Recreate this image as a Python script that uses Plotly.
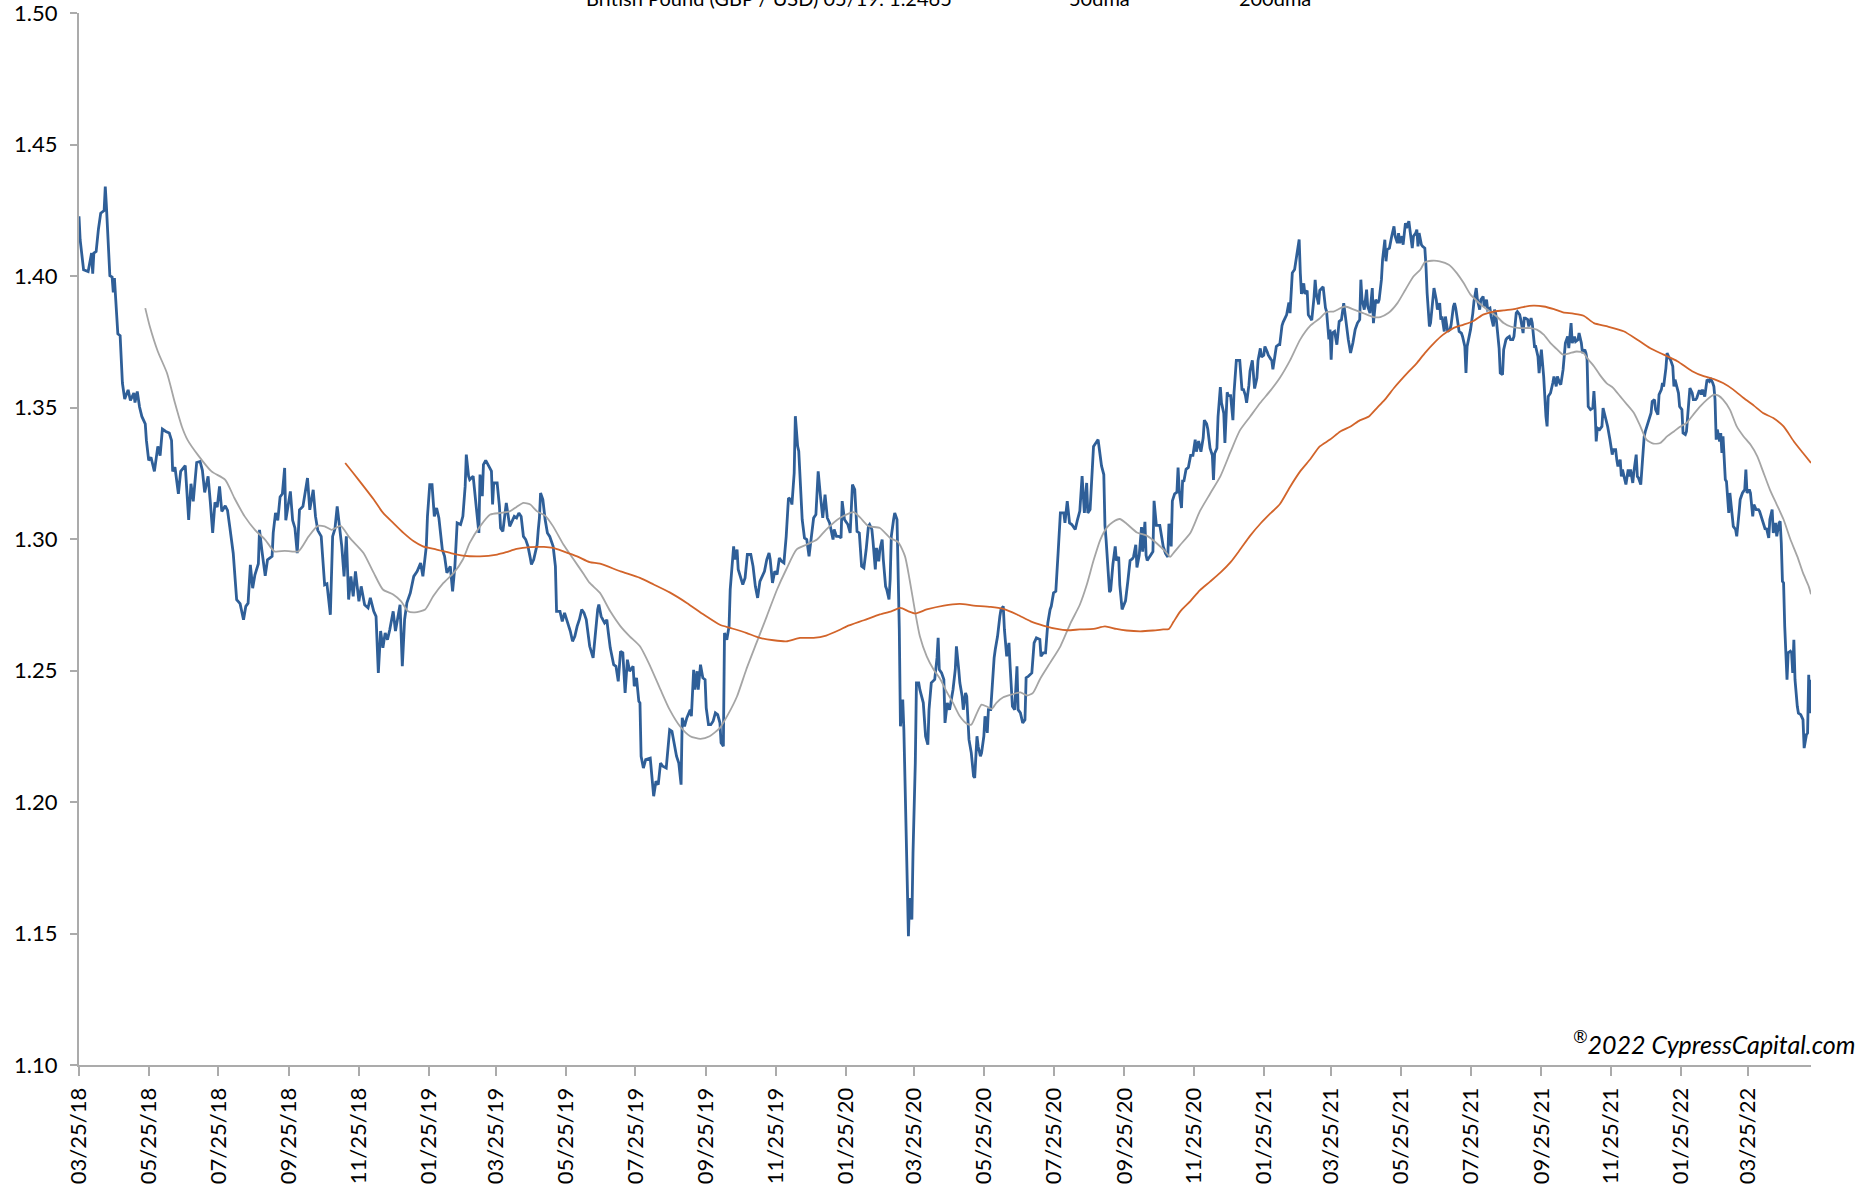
import pandas as pd
import plotly.graph_objects as go

START = "2018-03-25"

# GBP/USD daily close, x = days since START
gbp_days = [
    0, 1, 4, 8, 11, 12, 13, 15, 17, 19, 22, 23, 24, 27, 29, 30, 31, 32, 34, 36,
    38, 40, 43, 45, 48, 49, 51, 53, 55, 58, 59, 61, 63, 66, 69, 71, 73, 76, 79, 81,
    82, 84, 87, 89, 93, 96, 98, 100, 103, 106, 108, 110, 113, 115, 117, 119, 121, 123, 125, 128,
    130, 132, 135, 138, 141, 144, 146, 148, 150, 152, 154, 157, 158, 160, 163, 165, 169, 170, 172, 174,
    176, 178, 180, 181, 185, 187, 189, 191, 193, 196, 200, 202, 205, 207, 209, 212, 215, 217, 220, 222,
    224, 226,
    230, 232, 234, 236, 238, 240, 242, 245, 247, 250, 253, 255, 258, 260, 262, 264, 266, 268, 270, 272,
    275, 277, 279, 281, 283, 285, 287, 290, 293, 296, 299, 301, 304, 305, 307, 309, 311, 313, 315, 318,
    320, 322, 325, 327, 329, 331, 334, 336, 338, 339, 341, 342, 345, 347, 348, 350, 351, 353, 354, 356,
    358, 361, 362, 363, 366, 368, 369, 371, 374, 377, 379, 381, 383, 385, 387, 389, 391, 393, 395, 396,
    398, 401, 402, 403, 404, 406, 408, 410, 412, 415, 417, 418, 421, 423, 425, 427, 430, 432, 434, 436,
    438, 440, 442, 444, 447,
    450, 452, 454, 455, 457, 460, 462, 463, 465, 468, 470, 472, 474, 476, 478, 480, 482, 485, 486, 488,
    490, 491, 492, 494, 496, 500, 502, 503, 505, 507, 509, 511, 514, 515, 517, 519, 521, 523, 525, 527,
    528, 530, 532, 535, 536, 538, 539, 541, 542, 544, 546, 548, 549, 551, 553, 555, 557, 559, 561, 562,
    564, 565, 567, 569, 570, 572, 573, 574, 576, 577, 579, 581, 583, 585, 588, 590, 592, 594, 596, 598,
    600, 602, 604, 605, 607, 609, 611, 613, 615, 617, 619, 621, 623, 624, 626, 627, 629, 630, 632, 633,
    635, 637, 639, 641, 643, 645, 647, 649, 651, 653, 655, 657, 660, 661, 663, 665,
    667, 668, 670, 673, 675, 677, 679, 681, 683, 685, 687, 689, 691, 692, 694, 695, 697, 698, 700, 701,
    703, 704, 706, 707, 709, 710, 711, 713, 714, 716, 717, 718, 719, 721, 722, 724, 725, 726, 727, 729,
    730, 732, 733, 735, 736, 738, 739, 741, 743, 744, 746, 749, 751, 752, 753, 755, 757, 758, 760, 762,
    764, 765, 767, 768, 770, 771, 773, 774, 776, 777, 779, 781, 783, 784, 786, 787, 789, 790, 792, 793,
    795, 796, 798, 800, 801, 802, 804, 806, 807, 809, 810, 812, 814, 815, 817, 819, 821, 822, 824, 826,
    828, 829, 831, 834, 836, 838, 841, 842, 844, 846, 848, 850, 851, 853, 855, 857, 859, 862, 863, 865,
    867, 869, 872, 874, 876, 878, 880, 882, 883, 885,
    886, 888, 890, 892, 893, 895, 897, 898, 899, 900, 902, 903, 905, 907, 908, 910, 911, 913, 914, 916,
    918, 920, 922, 923, 925, 926, 928, 930, 931, 933, 934, 935, 937, 940, 941, 943, 946, 947, 949, 951,
    953, 954, 956, 957, 959, 961, 962, 963, 965, 966, 967, 969, 971, 973, 975, 977, 978, 980, 982, 984,
    985, 987, 988, 990, 992, 993, 994, 996, 997, 999, 1000, 1002, 1003, 1005, 1006, 1008, 1010, 1011, 1013, 1014,
    1016, 1018, 1019, 1021, 1022, 1024, 1025, 1027, 1028, 1029, 1031, 1032, 1034, 1035, 1037, 1038, 1040, 1041, 1043, 1044,
    1045, 1047, 1048, 1050, 1051, 1053, 1054, 1057, 1059, 1060, 1062, 1064, 1066, 1068, 1069, 1070, 1072, 1073, 1075, 1076,
    1078, 1079, 1081, 1082, 1083, 1085, 1086, 1089, 1091, 1092, 1094,
    1095, 1096, 1097, 1099, 1101, 1103, 1105, 1107, 1109, 1111, 1113, 1115, 1117, 1119, 1121, 1122, 1123, 1125, 1127, 1128,
    1130, 1132, 1133, 1135, 1137, 1138, 1140, 1141, 1143, 1144, 1145, 1147, 1149, 1151, 1152, 1154, 1155, 1156, 1158, 1159,
    1161, 1162, 1164, 1165, 1167, 1168, 1170, 1171, 1172, 1173, 1175, 1176, 1178, 1179, 1180, 1182, 1183, 1185, 1186, 1188,
    1189, 1191, 1192, 1193, 1195, 1196, 1198, 1200, 1201, 1203, 1204, 1205, 1207, 1208, 1210, 1211, 1213, 1214, 1215, 1217,
    1218, 1220, 1221, 1223, 1224, 1226, 1227, 1229, 1230, 1232, 1233, 1235, 1236, 1238, 1239, 1240, 1242, 1243, 1244, 1246,
    1247, 1249, 1250, 1252, 1253, 1255, 1256, 1258, 1259, 1261, 1262, 1264, 1265, 1266, 1268, 1269, 1271, 1272, 1274, 1275,
    1277, 1278, 1280, 1281, 1282, 1284, 1285, 1286, 1288, 1290, 1291, 1293, 1294, 1296, 1297, 1299, 1300, 1301, 1303, 1304,
    1306, 1307, 1309, 1310, 1312, 1313, 1315, 1316, 1318, 1319, 1320, 1321, 1323,
    1325, 1326, 1327, 1328, 1329, 1331, 1333, 1334, 1336, 1338, 1340, 1342, 1343, 1345, 1346, 1347, 1349, 1350, 1351, 1353,
    1354, 1356, 1357, 1358, 1360, 1361, 1363, 1364, 1365, 1367, 1369, 1370, 1371, 1373, 1374, 1376, 1377, 1379, 1380, 1382,
    1383, 1385, 1386, 1387, 1389, 1390, 1392, 1393, 1395, 1396, 1397, 1399, 1400, 1401, 1403, 1404, 1406, 1407, 1409, 1410,
    1412, 1413, 1415, 1416, 1418, 1419, 1420, 1421, 1423, 1424, 1425, 1427, 1428, 1430, 1431, 1432, 1433, 1434, 1436, 1437,
    1438, 1439, 1441, 1442, 1444, 1445, 1447, 1448, 1450, 1451, 1453, 1454, 1456, 1458, 1459, 1460, 1462, 1463, 1465, 1466,
    1468, 1470, 1471, 1473, 1474, 1476, 1477, 1479, 1480, 1482, 1483, 1485, 1486, 1488, 1489, 1490, 1491, 1492, 1493, 1495,
    1496, 1498, 1499, 1500, 1501, 1502, 1504, 1505, 1507, 1509, 1510, 1512, 1513, 1514, 1515, 1516,
]
gbp_close = [
    1.4227, 1.4138, 1.4024, 1.4017, 1.4087, 1.4009, 1.4087, 1.4093, 1.4178, 1.4239, 1.4249, 1.4340, 1.4265, 1.4001, 1.3996, 1.3938, 1.3992, 1.3922, 1.3780, 1.3773,
    1.3593, 1.3532, 1.3567, 1.3527, 1.3555, 1.3519, 1.3561, 1.3502, 1.3466, 1.3438, 1.3375, 1.3299, 1.3311, 1.3257, 1.3352, 1.3317, 1.3418, 1.3409, 1.3403, 1.3375,
    1.3257, 1.3273, 1.3172, 1.3257, 1.3279, 1.3073, 1.3210, 1.3143, 1.3291, 1.3295, 1.3261, 1.3177, 1.3238, 1.3137, 1.3023, 1.3139, 1.3121, 1.3200, 1.3105, 1.3126,
    1.3109, 1.3045, 1.2946, 1.2769, 1.2754, 1.2693, 1.2744, 1.2756, 1.2902, 1.2813, 1.2864, 1.2906, 1.3035, 1.2959, 1.2860, 1.2921, 1.2934, 1.3023, 1.3099, 1.3071,
    1.3160, 1.3172, 1.3270, 1.3071, 1.3181, 1.3071, 1.3042, 1.2946, 1.3111, 1.3124, 1.3232, 1.3111, 1.3187, 1.3086, 1.3033, 1.3010, 1.2826, 1.2830, 1.2712, 1.3010,
    1.3038, 1.3124,
    1.2972, 1.2858, 1.3010, 1.2770, 1.2858, 1.2782, 1.2877, 1.2763, 1.2820, 1.2750, 1.2738, 1.2776, 1.2725, 1.2706, 1.2491, 1.2650, 1.2586, 1.2643, 1.2617, 1.2655,
    1.2725, 1.2650, 1.2700, 1.2750, 1.2516, 1.2694, 1.2757, 1.2795, 1.2858, 1.2877, 1.2909, 1.2858, 1.2972, 1.3086, 1.3207, 1.3207, 1.3086, 1.3118, 1.3080, 1.2960,
    1.2934, 1.2871, 1.2896, 1.2801, 1.2896, 1.3061, 1.3055, 1.3086, 1.3200, 1.3321, 1.3239, 1.3226, 1.3239, 1.3156, 1.3112, 1.3023, 1.3245, 1.3163, 1.3283, 1.3299,
    1.3283, 1.3258, 1.3131, 1.3213, 1.3213, 1.3124, 1.3042, 1.3029, 1.3137, 1.3048, 1.3067, 1.3086, 1.3080, 1.3099, 1.3086, 1.3010, 1.2998, 1.2972, 1.2928, 1.2903,
    1.2922, 1.2979, 1.3036, 1.3080, 1.3175, 1.3150, 1.3074, 1.3023, 1.3010, 1.2972, 1.2896, 1.2725, 1.2725, 1.2687, 1.2719, 1.2694, 1.2650, 1.2611, 1.2630, 1.2668,
    1.2694, 1.2732, 1.2719, 1.2694, 1.2592,
    1.2548, 1.2655, 1.2732, 1.2751, 1.2706, 1.2681, 1.2693, 1.2655, 1.2586, 1.2522, 1.2516, 1.2459, 1.2573, 1.2567, 1.2415, 1.2541, 1.2497, 1.2516, 1.2440, 1.2472,
    1.2383, 1.2377, 1.2174, 1.2129, 1.2161, 1.2167, 1.2053, 1.2022, 1.2079, 1.2066, 1.2148, 1.2136, 1.2129, 1.2174, 1.2275, 1.2269, 1.2225, 1.2174, 1.2148, 1.2066,
    1.2320, 1.2288, 1.2320, 1.2351, 1.2326, 1.2503, 1.2427, 1.2497, 1.2427, 1.2522, 1.2472, 1.2465, 1.2358, 1.2294, 1.2294, 1.2307, 1.2339, 1.2332, 1.2301, 1.2225,
    1.2212, 1.2643, 1.2617, 1.2668, 1.2808, 1.2909, 1.2972, 1.2922, 1.2960, 1.2884, 1.2858, 1.2827, 1.2852, 1.2941, 1.2941, 1.2896, 1.2820, 1.2776, 1.2839, 1.2858,
    1.2877, 1.2922, 1.2947, 1.2922, 1.2833, 1.2877, 1.2865, 1.2928, 1.2915, 1.2909, 1.3010, 1.3156, 1.3150, 1.3131, 1.3251, 1.3467, 1.3353, 1.3334, 1.3124, 1.3074,
    1.3004, 1.2998, 1.2934, 1.2998, 1.3080, 1.3093, 1.3257, 1.3162, 1.3080, 1.3169, 1.3080, 1.3061, 1.2998, 1.3036, 1.3010, 1.3010,
    1.3004, 1.3144, 1.3074, 1.3055, 1.3023, 1.3207, 1.3188, 1.3029, 1.3023, 1.2896, 1.2890, 1.2960, 1.3049, 1.3055, 1.3036, 1.2991, 1.2884, 1.2966, 1.2915, 1.2960,
    1.2998, 1.2922, 1.2820, 1.2808, 1.2770, 1.2846, 1.3010, 1.3074, 1.3099, 1.3074, 1.2884, 1.2656, 1.2288, 1.2390, 1.2275, 1.1870, 1.1616, 1.1490, 1.1635, 1.1553,
    1.1806, 1.2149, 1.2453, 1.2453, 1.2427, 1.2390, 1.2377, 1.2250, 1.2218, 1.2351, 1.2453, 1.2466, 1.2548, 1.2624, 1.2504, 1.2491, 1.2466, 1.2301, 1.2377, 1.2351,
    1.2402, 1.2427, 1.2504, 1.2592, 1.2504, 1.2453, 1.2402, 1.2351, 1.2415, 1.2402, 1.2237, 1.2187, 1.2098, 1.2092, 1.2250, 1.2212, 1.2174, 1.2187, 1.2250, 1.2326,
    1.2263, 1.2351, 1.2351, 1.2504, 1.2548, 1.2580, 1.2630, 1.2706, 1.2732, 1.2744, 1.2656, 1.2554, 1.2605, 1.2516, 1.2364, 1.2351, 1.2516, 1.2351, 1.2339, 1.2301,
    1.2313, 1.2472, 1.2478, 1.2491, 1.2605, 1.2624, 1.2618, 1.2554, 1.2567, 1.2567, 1.2681, 1.2732, 1.2744, 1.2795, 1.2801, 1.2947, 1.3099, 1.3099, 1.3061, 1.3144,
    1.3061, 1.3055, 1.3036, 1.3074, 1.3106, 1.3239, 1.3099, 1.3213, 1.3099, 1.3112,
    1.3212, 1.3352, 1.3365, 1.3378, 1.3345, 1.3278, 1.3245, 1.3052, 1.2998, 1.2918, 1.2798, 1.2805, 1.2905, 1.2972, 1.2918, 1.2932, 1.2825, 1.2732, 1.2745, 1.2765,
    1.2838, 1.2918, 1.2925, 1.2932, 1.2978, 1.2892, 1.2938, 1.3045, 1.2952, 1.3065, 1.2938, 1.2918, 1.2932, 1.2952, 1.3145, 1.3052, 1.3052, 1.3025, 1.2972, 1.2945,
    1.2932, 1.3058, 1.2972, 1.3145, 1.3172, 1.3178, 1.3272, 1.3185, 1.3118, 1.3225, 1.3218, 1.3265, 1.3272, 1.3318, 1.3318, 1.3378, 1.3332, 1.3372, 1.3332, 1.3385,
    1.3452, 1.3438, 1.3418, 1.3345, 1.3318, 1.3225, 1.3325, 1.3345, 1.3465, 1.3578, 1.3518, 1.3478, 1.3365, 1.3558, 1.3545, 1.3545, 1.3452, 1.3558, 1.3679, 1.3679,
    1.3679, 1.3565, 1.3572, 1.3545, 1.3518, 1.3585, 1.3639, 1.3679, 1.3612, 1.3572, 1.3612, 1.3679, 1.3725, 1.3692, 1.3699, 1.3732, 1.3712, 1.3699, 1.3685, 1.3679,
    1.3645, 1.3719, 1.3732, 1.3739, 1.3739, 1.3812, 1.3825, 1.3852, 1.3899, 1.3859, 1.4012, 1.4025, 1.4092, 1.4139, 1.4012, 1.3932, 1.3972, 1.3932, 1.3945, 1.3852,
    1.3839, 1.3832, 1.3919, 1.3985, 1.3932, 1.3892, 1.3945, 1.3959, 1.3879, 1.3865, 1.3759,
    1.3796, 1.3682, 1.3783, 1.3789, 1.3739, 1.3827, 1.3834, 1.3897, 1.3821, 1.3758, 1.3707, 1.3745, 1.3796, 1.3821, 1.3834, 1.3986, 1.3910, 1.3872, 1.3948, 1.3884,
    1.3859, 1.3954, 1.3821, 1.3910, 1.3897, 1.3910, 1.3986, 1.4062, 1.4138, 1.4056, 1.4100, 1.4106, 1.4151, 1.4189, 1.4151, 1.4125, 1.4163, 1.4125, 1.4151, 1.4119,
    1.4201, 1.4182, 1.4208, 1.4170, 1.4106, 1.4151, 1.4163, 1.4176, 1.4113, 1.4163, 1.4119, 1.4113, 1.4106, 1.4037, 1.3935, 1.3808, 1.3821, 1.3910, 1.3954, 1.3910,
    1.3872, 1.3897, 1.3834, 1.3846, 1.3789, 1.3846, 1.3789, 1.3796, 1.3815, 1.3884, 1.3897, 1.3878, 1.3821, 1.3789, 1.3783, 1.3770, 1.3732, 1.3631, 1.3732, 1.3777,
    1.3796, 1.3859, 1.3903, 1.3954, 1.3910, 1.3872, 1.3910, 1.3922, 1.3884, 1.3910, 1.3872, 1.3878, 1.3846, 1.3808, 1.3872, 1.3859, 1.3758, 1.3726, 1.3631, 1.3625,
    1.3720, 1.3758, 1.3764, 1.3770, 1.3758, 1.3758, 1.3770, 1.3859, 1.3865, 1.3853, 1.3834, 1.3783, 1.3840, 1.3840, 1.3834, 1.3808, 1.3840, 1.3821, 1.3732, 1.3732,
    1.3694, 1.3631, 1.3720, 1.3669, 1.3618, 1.3466, 1.3428, 1.3542, 1.3555, 1.3593, 1.3618, 1.3580, 1.3618, 1.3593, 1.3587, 1.3644, 1.3682, 1.3745, 1.3770, 1.3726,
    1.3821, 1.3745, 1.3770, 1.3751, 1.3758, 1.3783, 1.3745, 1.3707, 1.3720, 1.3707, 1.3682, 1.3504, 1.3492,
    1.3498, 1.3562, 1.3492, 1.3371, 1.3422, 1.3416, 1.3428, 1.3498, 1.3466, 1.3428, 1.3378, 1.3321, 1.3340, 1.3340, 1.3302, 1.3276, 1.3302, 1.3238, 1.3264, 1.3226,
    1.3207, 1.3264, 1.3238, 1.3264, 1.3213, 1.3257, 1.3321, 1.3238, 1.3232, 1.3207, 1.3327, 1.3390, 1.3409, 1.3435, 1.3454, 1.3479, 1.3523, 1.3530, 1.3492, 1.3473,
    1.3549, 1.3568, 1.3593, 1.3580, 1.3650, 1.3707, 1.3688, 1.3682, 1.3657, 1.3580, 1.3606, 1.3574, 1.3555, 1.3504, 1.3492, 1.3403, 1.3397, 1.3409, 1.3530, 1.3574,
    1.3555, 1.3530, 1.3530, 1.3536, 1.3562, 1.3562, 1.3549, 1.3568, 1.3542, 1.3568, 1.3606, 1.3599, 1.3612, 1.3593, 1.3580, 1.3530, 1.3378, 1.3416, 1.3371, 1.3403,
    1.3327, 1.3390, 1.3226, 1.3219, 1.3099, 1.3175, 1.3099, 1.3048, 1.3036, 1.3010, 1.3099, 1.3150, 1.3175, 1.3188, 1.3264, 1.3175, 1.3188, 1.3175, 1.3086, 1.3131,
    1.3112, 1.3112, 1.3105, 1.3074, 1.3067, 1.3036, 1.3042, 1.3004, 1.3074, 1.3112, 1.3023, 1.3061, 1.3010, 1.3061, 1.3067, 1.2985, 1.2839, 1.2833, 1.2668, 1.2465,
    1.2567, 1.2573, 1.2567, 1.2491, 1.2617, 1.2465, 1.2364, 1.2338, 1.2332, 1.2313, 1.2205, 1.2256, 1.2262, 1.2484, 1.2338, 1.2465,
]

# 50-day moving average
ma50_days = [
    58, 62, 69, 77, 84, 90, 95, 104, 116, 128, 136, 145, 154, 163, 171, 180, 192, 201, 209, 215,
    221, 229, 237, 249, 258, 266, 275, 282, 288, 294, 303, 310, 319, 328, 336, 342, 351, 360, 369, 377,
    383, 389, 395, 401, 408, 415, 424, 433, 442, 447, 456, 465, 474, 482, 491, 500, 509, 517, 526, 535,
    544, 552, 561, 568, 576, 584, 593, 602, 611, 619, 628, 637, 646, 654, 666, 678, 684, 691, 701, 710,
    717, 723, 727, 732, 736, 742, 748, 754, 760, 765, 771, 777, 781, 786, 790, 795, 799, 803, 809, 816,
    824, 830, 835, 841, 850, 859, 868, 876, 882, 888, 894, 900, 905, 911, 917, 926, 935, 943, 951, 955,
    959, 964, 973, 981, 990, 999, 1008, 1016, 1025, 1034, 1043, 1051, 1060, 1069, 1078, 1086, 1092, 1098, 1108, 1116,
    1124, 1133, 1139, 1146, 1154, 1161, 1168, 1174, 1178, 1184, 1191, 1199, 1206, 1212, 1218, 1224, 1229, 1235, 1241, 1247,
    1253, 1261, 1270, 1276, 1282, 1288, 1294, 1299, 1305, 1311, 1317, 1320, 1326, 1331, 1337, 1343, 1349, 1355, 1361, 1366,
    1372, 1378, 1384, 1390, 1396, 1401, 1407, 1413, 1419, 1425, 1431, 1435, 1439, 1445, 1451, 1457, 1463, 1469, 1474, 1480,
    1486, 1492, 1498, 1504, 1509, 1514, 1516,
]
ma50_vals = [
    1.3878, 1.3808, 1.3713, 1.3631, 1.3517, 1.3428, 1.3377, 1.3320, 1.3257, 1.3225, 1.3156, 1.3086, 1.3035, 1.2997, 1.2953, 1.2955, 1.2953, 1.3010, 1.3050, 1.3048,
    1.3035, 1.3050, 1.3004, 1.2947, 1.2871, 1.2808, 1.2789, 1.2763, 1.2725, 1.2721, 1.2732, 1.2782, 1.2833, 1.2871, 1.2922, 1.2985, 1.3048, 1.3093, 1.3099, 1.3105,
    1.3122, 1.3137, 1.3131, 1.3105, 1.3089, 1.3048, 1.2979, 1.2922, 1.2865, 1.2833, 1.2795, 1.2725, 1.2668, 1.2630, 1.2592, 1.2516, 1.2427, 1.2351, 1.2288, 1.2250,
    1.2240, 1.2250, 1.2282, 1.2332, 1.2402, 1.2503, 1.2605, 1.2706, 1.2808, 1.2884, 1.2960, 1.2979, 1.2998, 1.3036, 1.3080, 1.3102, 1.3080, 1.3049, 1.3042, 1.3004,
    1.2988, 1.2934, 1.2846, 1.2719, 1.2630, 1.2554, 1.2504, 1.2466, 1.2415, 1.2377, 1.2326, 1.2298, 1.2294, 1.2339, 1.2370, 1.2362, 1.2354, 1.2377, 1.2398, 1.2408,
    1.2417, 1.2405, 1.2415, 1.2466, 1.2529, 1.2592, 1.2681, 1.2750, 1.2825, 1.2918, 1.2998, 1.3045, 1.3065, 1.3076, 1.3058, 1.3025, 1.3012, 1.2985, 1.2952, 1.2932,
    1.2952, 1.2978, 1.3025, 1.3105, 1.3172, 1.3238, 1.3332, 1.3412, 1.3465, 1.3518, 1.3565, 1.3612, 1.3679, 1.3759, 1.3812, 1.3839, 1.3863, 1.3865, 1.3884, 1.3872,
    1.3859, 1.3844, 1.3844, 1.3859, 1.3897, 1.3948, 1.3998, 1.4024, 1.4052, 1.4058, 1.4056, 1.4043, 1.4011, 1.3973, 1.3929, 1.3903, 1.3884, 1.3865, 1.3846, 1.3821,
    1.3808, 1.3802, 1.3802, 1.3796, 1.3777, 1.3745, 1.3720, 1.3701, 1.3707, 1.3713, 1.3707, 1.3688, 1.3657, 1.3625, 1.3593, 1.3574, 1.3542, 1.3511, 1.3479, 1.3435,
    1.3378, 1.3363, 1.3365, 1.3390, 1.3409, 1.3426, 1.3441, 1.3473, 1.3504, 1.3530, 1.3549, 1.3545, 1.3530, 1.3492, 1.3428, 1.3390, 1.3359, 1.3314, 1.3257, 1.3188,
    1.3131, 1.3074, 1.2998, 1.2934, 1.2871, 1.2820, 1.2790,
]

# 200-day moving average
ma200_days = [
    233, 240, 249, 258, 266, 275, 284, 293, 301, 313, 325, 336, 351, 366, 374, 383, 395, 407, 415, 424,
    436, 447, 456, 474, 491, 503, 517, 532, 547, 561, 570, 584, 596, 608, 619, 631, 643, 654, 666, 672,
    687, 701, 711, 719, 726, 732, 742, 757, 771, 783, 798, 809, 821, 833, 844, 856, 865, 876, 888, 898,
    908, 917, 929, 940, 949, 954, 958, 964, 973, 981, 990, 999, 1008, 1016, 1025, 1034, 1043, 1051, 1060, 1069,
    1078, 1086, 1095, 1104, 1113, 1121, 1129, 1136, 1143, 1151, 1156, 1164, 1171, 1178, 1186, 1194, 1203, 1212, 1221, 1229,
    1238, 1247, 1256, 1264, 1273, 1282, 1291, 1299, 1308, 1317, 1326, 1337, 1352, 1364, 1375, 1387, 1399, 1412, 1422, 1431,
    1439, 1448, 1457, 1466, 1474, 1483, 1492, 1501, 1509, 1516,
]
ma200_vals = [
    1.3289, 1.3251, 1.3201, 1.3150, 1.3100, 1.3061, 1.3023, 1.2991, 1.2972, 1.2960, 1.2947, 1.2937, 1.2934, 1.2941, 1.2950, 1.2962, 1.2969, 1.2970, 1.2966, 1.2953,
    1.2934, 1.2912, 1.2906, 1.2877, 1.2852, 1.2827, 1.2797, 1.2757, 1.2712, 1.2674, 1.2662, 1.2643, 1.2624, 1.2615, 1.2611, 1.2624, 1.2624, 1.2633, 1.2655, 1.2668,
    1.2691, 1.2713, 1.2725, 1.2738, 1.2725, 1.2717, 1.2732, 1.2747, 1.2753, 1.2747, 1.2742, 1.2734, 1.2713, 1.2687, 1.2671, 1.2658, 1.2653, 1.2656, 1.2658, 1.2668,
    1.2658, 1.2652, 1.2649, 1.2652, 1.2656, 1.2658, 1.2685, 1.2725, 1.2765, 1.2805, 1.2838, 1.2872, 1.2912, 1.2958, 1.3012, 1.3058, 1.3098, 1.3132, 1.3198, 1.3258,
    1.3305, 1.3352, 1.3378, 1.3409, 1.3428, 1.3451, 1.3466, 1.3498, 1.3530, 1.3574, 1.3599, 1.3637, 1.3669, 1.3707, 1.3745, 1.3777, 1.3802, 1.3815, 1.3830, 1.3853,
    1.3865, 1.3869, 1.3874, 1.3882, 1.3887, 1.3884, 1.3874, 1.3862, 1.3857, 1.3849, 1.3821, 1.3809, 1.3790, 1.3758, 1.3726, 1.3701, 1.3676, 1.3638, 1.3619, 1.3608,
    1.3593, 1.3568, 1.3536, 1.3507, 1.3479, 1.3460, 1.3428, 1.3371, 1.3327, 1.3289,
]

y_tick_vals = [1.10, 1.15, 1.20, 1.25, 1.30, 1.35, 1.40, 1.45, 1.50]
legend_labels = ["British Pound (GBP / USD) 05/19: 1.2465", "50dma", "200dma"]
watermark = "<sup>®</sup>2022 CypressCapital.com"


def to_dates(days):
    return pd.Timestamp(START) + pd.to_timedelta(days, unit="D")


fig = go.Figure()
fig.add_trace(go.Scatter(x=to_dates(gbp_days), y=gbp_close, mode="lines", name=legend_labels[0],
                         line=dict(color="#2F5F98", width=2.8), legend="legend", showlegend=True))
fig.add_trace(go.Scatter(x=to_dates(ma50_days), y=ma50_vals, mode="lines", name=legend_labels[1],
                         line=dict(color="#A5A5A5", width=1.8, shape="spline", smoothing=0.6),
                         legend="legend2", showlegend=True))
fig.add_trace(go.Scatter(x=to_dates(ma200_days), y=ma200_vals, mode="lines", name=legend_labels[2],
                         line=dict(color="#D2642A", width=1.8, shape="spline", smoothing=0.6),
                         legend="legend3", showlegend=True))

axis_gray = "#ABABAB"
x_range = [to_dates([0])[0], to_dates([1516])[0]]
common_x = dict(type="date", range=x_range, tick0=START, dtick="M2", showgrid=False, zeroline=False)

leg = dict(orientation="h", yanchor="middle", y=1.0145, xanchor="left", font=dict(size=20, color="black"),
           bgcolor="rgba(0,0,0,0)", borderwidth=0)

fig.update_layout(
    width=1858, height=1193,
    showlegend=True,
    margin=dict(l=79, r=47, t=13, b=128, autoexpand=False),
    plot_bgcolor="white", paper_bgcolor="white",
    font=dict(family="Lato", color="black"),
    xaxis=dict(**common_x, tickformat="%m/%d/%y", tickangle=-90, ticks="outside", ticklen=9,
               tickwidth=1.5, tickcolor=axis_gray, showline=True, linecolor=axis_gray, linewidth=2,
               tickfont=dict(family="Lato", size=22, color="black"), ticklabelstandoff=3,
               ticklabeloverflow="allow"),
    xaxis2=dict(**common_x, overlaying="x", anchor="y", side="bottom", ticks="inside", ticklen=9,
                tickwidth=1.5, tickcolor=axis_gray, showticklabels=False, showline=False),
    yaxis=dict(range=[1.10, 1.50], tickmode="array", tickvals=y_tick_vals, tickformat=".2f",
               ticks="outside", ticklen=7, tickwidth=1.5, tickcolor=axis_gray, showline=True,
               linecolor=axis_gray, linewidth=2, showgrid=False, zeroline=False,
               tickfont=dict(family="Lato", size=22, color="black"), ticklabelstandoff=8,
               ticklabeloverflow="allow"),
    legend=dict(leg, x=0.2696),
    legend2=dict(leg, x=0.5485),
    legend3=dict(leg, x=0.6466),
    annotations=[dict(text="<i>" + watermark + "</i>", xref="paper", yref="paper", x=1.027, y=0.0035,
                      xanchor="right", yanchor="bottom", showarrow=False,
                      font=dict(family="Lato", size=25, color="black"))],
)

fig.write_html("out.html", config={"displayModeBar": False},
               post_script="document.body.style.margin='0';")
